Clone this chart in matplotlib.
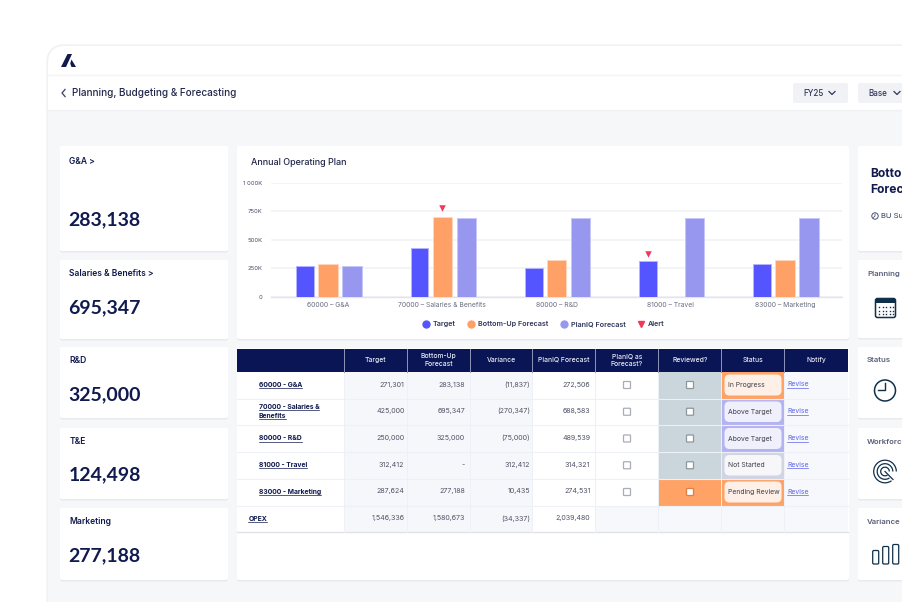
# -*- coding: utf-8 -*-
"""Planning, Budgeting & Forecasting dashboard"""

import matplotlib
matplotlib.use("Agg")
import matplotlib.pyplot as plt
from matplotlib.lines import Line2D
from matplotlib.patches import Arc, Circle, FancyBboxPatch, PathPatch, Rectangle
from matplotlib.path import Path
import numpy as np

plt.rcParams["font.family"] = ["Inter", "DejaVu Sans"]

NAVY = "#101A4E"
HEADER = "#0A1555"
GREY_TEXT = "#4A4F68"
W, H = 903, 602

# chart data, in thousands
categories = ["60000 – G&A", "70000 – Salaries & Benefits", "80000 – R&D", "81000 – Travel", "83000 – Marketing"]
target = [272, 425, 250, 312, 287]
bottom_up = [285, 700, 327, np.nan, 327]
planiq = [272, 690, 690, 690, 690]
alert_x = [1, 3]
alert_offset = [0.0, -0.2]
alert_y = [775, 378]
y_ticks = [0, 250, 500, 750, 1000]
y_tick_labels = ["0", "250K", "500K", "750K", "1 000K"]

# KPI cards on the left
kpi_labels = ["G&A >", "Salaries & Benefits >", "R&D", "T&E", "Marketing"]
kpi_values = ["283,138", "695,347", "325,000", "124,498", "277,188"]

# table
col_headers = ["", "Target", "Bottom-Up\nForecast", "Variance", "PlanIQ Forecast",
               "PlanIQ as\nForecast?", "Reviewed?", "Status", "Notify"]
row_names = ["60000 - G&A", "70000 - Salaries &\nBenefits", "80000 - R&D",
             "81000 - Travel", "83000 - Marketing", "OPEX"]
col_target = ["271,301", "425,000", "250,000", "312,412", "287,624", "1,546,336"]
col_bottom = ["283,138", "695,347", "325,000", "-", "277,188", "1,580,673"]
col_variance = ["(11,837)", "(270,347)", "(75,000)", "312,412", "10,435", "(34,337)"]
col_planiq = ["272,506", "688,583", "489,539", "314,321", "274,531", "2,039,480"]
statuses = ["In Progress", "Above Target", "Above Target", "Not Started", "Pending Review"]
status_bg = ["#FFA266", "#B4B3F1", "#B4B3F1", "#D1D4E2", "#FFA266"]
status_pill = ["#FFF0E7", "#F0F0FC", "#F0F0FC", "#F7F7FA", "#FFF0E7"]
reviewed_bg = ["#CAD6DB", "#CAD6DB", "#CAD6DB", "#CAD6DB", "#FFA266"]

col_x = [237.5, 344.5, 407, 470, 532.5, 595.5, 658.5, 721.5, 784.5, 848]
row_y = [371.5, 398.5, 425, 452, 478.5, 505.5, 532]
num_pad = [2.5, 5, 2.5, 5]

# right hand cards
side_labels = ["Planning", "Status", "Workforc", "Variance"]


def card(ax, x0, y0, x1, y1):
    # white card with a soft shadow
    ax.add_patch(FancyBboxPatch((x0, y0 + 1.5), x1 - x0, y1 - y0, boxstyle="round,pad=0,rounding_size=2",
                                fc="#E8EAEE", ec="none", zorder=2))
    ax.add_patch(FancyBboxPatch((x0, y0), x1 - x0, y1 - y0, boxstyle="round,pad=0,rounding_size=2",
                                fc="white", ec="none", zorder=3))


def rect(ax, x0, y0, x1, y1, color, zorder=4):
    ax.add_patch(Rectangle((x0, y0), x1 - x0, y1 - y0, fc=color, ec="none", zorder=zorder))


def checkbox(ax, xc, yc, edge="#A9ADB5"):
    ax.add_patch(FancyBboxPatch((xc - 3.5, yc - 3.5), 7, 7, boxstyle="round,pad=0,rounding_size=0.6",
                                fc="white", ec=edge, lw=0.9, zorder=6))


fig = plt.figure(figsize=(W / 100, H / 100), dpi=100, facecolor="white")
bg = fig.add_axes([0, 0, 1, 1])
bg.set_xlim(0, W)
bg.set_ylim(H, 0)
bg.axis("off")

# === app frame and header ===
bg.add_patch(FancyBboxPatch((47, 45), W + 40, H + 40, boxstyle="round,pad=0,rounding_size=18",
                            fc="#F6F7F9", ec="#F0F1F3", lw=1, zorder=1))
bg.add_patch(FancyBboxPatch((48, 46), W + 40, 90, boxstyle="round,pad=0,rounding_size=18",
                            fc="white", ec="none", zorder=1.2))
rect(bg, 48, 76, W, 110, "white", 1.3)
rect(bg, 48, 110, W, H, "#F6F7F9", 1.3)
bg.plot([48, W], [75, 75], color="#F3F4F6", lw=1, zorder=1.5)
bg.plot([48, W], [110, 110], color="#F0F1F4", lw=1, zorder=1.5)

# logo
bg.add_patch(PathPatch(Path([(61, 67), (67.5, 54), (72, 54), (66, 67), (61, 67)]), fc=NAVY, ec="none", zorder=4))
bg.add_patch(PathPatch(Path([(71.5, 59.5), (76, 67), (71.5, 67), (70.2, 63.5), (71.5, 59.5)]), fc=NAVY, ec="none", zorder=4))

bg.plot([65, 62, 65], [89.5, 93, 96.5], color=GREY_TEXT, lw=1, zorder=4)
bg.text(72.5, 93, "Planning, Budgeting & Forecasting", fontsize=7.2, color="#22284A", va="center", weight="medium", zorder=4)

# FY25 / Base selectors
for x0, x1, label, tx in [(793, 848, "FY25", 803), (858, 915, "Base", 868)]:
    bg.add_patch(FancyBboxPatch((x0, 83), x1 - x0, 20, boxstyle="round,pad=0,rounding_size=2", fc="#F1F2F5", ec="none", zorder=4))
    bg.text(tx, 93, label, fontsize=5.8, color="#30365A", va="center", weight="medium", zorder=5)
    bg.plot([tx + 26, tx + 29, tx + 32], [91.5, 94.5, 91.5], color="#30365A", lw=0.9, zorder=5)

# === KPI cards ===
kpi_boxes = [(146, 251), (260, 339), (347, 418), (428, 499), (508, 580)]
kpi_label_y = [162, 274, 360.5, 441.5, 521.5]
kpi_value_y = [220, 307.5, 394.5, 474.5, 555.5]
for (y0, y1), lab, val, ly, vy in zip(kpi_boxes, kpi_labels, kpi_values, kpi_label_y, kpi_value_y):
    card(bg, 60, y0, 228, y1)
    bg.text(69.5, ly, lab, fontsize=6.1, color=NAVY, va="center", weight="semibold", zorder=5)
    bg.text(68.5, vy, val, fontsize=14, color=NAVY, va="center", weight="bold", family="Lato", zorder=5)

# === chart card ===
card(bg, 237, 146, 849, 339)
bg.text(251, 162.5, "Annual Operating Plan", fontsize=6.5, color="#22284A", va="center", weight="medium", zorder=5)

left, right, top, bottom = 271, 842, 182.7, 297
ax = fig.add_axes([left / W, 1 - bottom / H, (right - left) / W, (bottom - top) / H], zorder=5)
ax.patch.set_alpha(0)
x = np.arange(len(categories))
bar_w = 0.165
ax.bar(x - 0.2, target, width=bar_w - 0.01, color="#5555FF", edgecolor="#B4B4FF", linewidth=0.7, zorder=3)
ax.bar(x, bottom_up, width=bar_w + 0.005, color="#FFA066", edgecolor="#FFD6BC", linewidth=0.7, zorder=3)
ax.bar(x + 0.2 + 0.01, planiq, width=bar_w + 0.005, color="#9797F0", edgecolor="#C6C6F8", linewidth=0.7, zorder=3)
ax.scatter(np.array(alert_x) + np.array(alert_offset), alert_y, marker="v", s=22, color="#F0385A", linewidths=0, zorder=4)

ax.set_xlim(-0.5, 4.5)
ax.set_ylim(0, 1000)
ax.set_xticks(x, categories)
ax.set_yticks(y_ticks, y_tick_labels)
ax.tick_params(axis="x", length=0, labelsize=4.9, labelcolor="#6A6E82", pad=3.5)
ax.tick_params(axis="y", length=0, labelsize=4.3, labelcolor="#4A4F68", pad=6)
ax.grid(axis="y", color="#F1F2F6", linewidth=1.2, zorder=0)
ax.set_axisbelow(True)
for side in ["top", "right", "left"]:
    ax.spines[side].set_visible(False)
ax.spines["bottom"].set_color("#E1E3EF")
ax.spines["bottom"].set_linewidth(1)

legend_elements = [
    Line2D([0], [0], marker="o", color="#5555FF", linestyle="", markersize=5, label="Target"),
    Line2D([0], [0], marker="o", color="#FFA066", linestyle="", markersize=5, label="Bottom-Up Forecast"),
    Line2D([0], [0], marker="o", color="#9797F0", linestyle="", markersize=5, label="PlanIQ Forecast"),
    Line2D([0], [0], marker="v", color="#F0385A", linestyle="", markersize=4.5, label="Alert"),
]
leg = ax.legend(handles=legend_elements, loc="center", bbox_to_anchor=(0.477, -0.238), ncol=4, frameon=False,
                prop={"size": 5.2, "weight": "semibold"}, labelcolor="#30365A",
                handletextpad=0.45, columnspacing=1.68, handlelength=1.0)

# === table ===
card(bg, 237, 348, 849, 580)
rect(bg, col_x[0], 348.5, col_x[-1], row_y[0], HEADER, 4)
for cx in col_x[1:-1]:
    bg.plot([cx, cx], [348.5, row_y[0]], color="#8F96B8", lw=0.7, zorder=5)
for i, head in enumerate(col_headers):
    if head:
        bg.text((col_x[i] + col_x[i + 1]) / 2, 360, head, fontsize=4.9, color="#E8EAF4", ha="center", va="center",
                linespacing=1.35, weight="medium", zorder=6)

# shaded columns
rect(bg, col_x[1], row_y[0], col_x[4], row_y[-1], "#F6F7FB", 4)
rect(bg, col_x[5], row_y[5], col_x[-1], row_y[-1], "#F7F8FC", 4)
rect(bg, col_x[8], row_y[0], col_x[-1], row_y[5], "#F7F8FC", 4)

for r in range(5):
    y0, y1 = row_y[r], row_y[r + 1]
    rect(bg, col_x[6], y0, col_x[7], y1, reviewed_bg[r], 4.2)
    rect(bg, col_x[7], y0, col_x[8], y1, status_bg[r], 4.2)
    yc = (y0 + y1) / 2
    bg.add_patch(FancyBboxPatch((col_x[7] + 3, y0 + 3), col_x[8] - col_x[7] - 6, y1 - y0 - 6,
                                boxstyle="round,pad=0,rounding_size=5", fc=status_pill[r], ec="none", zorder=5))
    bg.text(col_x[7] + 6.5, yc, statuses[r], fontsize=4.9, color="#3F3F48", va="center", zorder=6)
    checkbox(bg, (col_x[5] + col_x[6]) / 2, yc)
    checkbox(bg, (col_x[6] + col_x[7]) / 2, yc, "#E07F45" if r == 4 else "#8E979E")
    bg.text(col_x[8] + 3, yc - 0.5, "Revise", fontsize=4.9, color="#5A63E8", va="center", zorder=6)
    bg.plot([col_x[8] + 3, col_x[8] + 24], [yc + 3, yc + 3], color="#5A63E8", lw=0.5, zorder=6)

# grid lines
for ry in row_y[1:-1]:
    bg.plot([col_x[0], col_x[-1]], [ry, ry], color="#EEF0F7", lw=0.8, zorder=4.5)
bg.plot([col_x[0], col_x[-1]], [row_y[-1], row_y[-1]], color="#E0E2E8", lw=1, zorder=4.5)
for cx in col_x[1:-1]:
    bg.plot([cx, cx], [row_y[0], row_y[-1]], color="#EEF0F7", lw=0.7, zorder=4.5)

# table text
for r, name in enumerate(row_names):
    yc = (row_y[r] + row_y[r + 1]) / 2
    name_x = 259 if r < 5 else 248.5
    if "\n" in name:
        first, second = name.split("\n")
        bg.text(name_x, yc - 4.5, first, fontsize=4.9, color=NAVY, va="center", weight="bold", zorder=6)
        bg.text(name_x, yc + 4.5, second, fontsize=4.9, color=NAVY, va="center", weight="bold", zorder=6)
        bg.plot([name_x, name_x + 60], [yc - 1.5, yc - 1.5], color=NAVY, lw=0.5, zorder=6)
        bg.plot([name_x, name_x + 27], [yc + 7.5, yc + 7.5], color=NAVY, lw=0.5, zorder=6)
    else:
        t = bg.text(name_x, yc, name, fontsize=4.9, color=NAVY, va="center", weight="bold", zorder=6)
        fig.canvas.draw()
        bb = t.get_window_extent()
        bg.plot([bb.x0, bb.x1], [yc + 3, yc + 3], color=NAVY, lw=0.5, zorder=6)
    for c, col in zip(range(1, 5), [col_target, col_bottom, col_variance, col_planiq]):
        bg.text(col_x[c + 1] - num_pad[c - 1], yc - 0.5, col[r], fontsize=5.1, color="#4E5366", ha="right", va="center", zorder=6)

# === right hand cards ===
card(bg, 858, 146, W + 20, 251)
bg.text(870.5, 174, "Botto", fontsize=8.7, color=NAVY, va="center", weight="bold", zorder=5)
bg.text(870.5, 190, "Forec", fontsize=8.7, color=NAVY, va="center", weight="bold", zorder=5)
bg.add_patch(Circle((875, 216), 3.2, fc="none", ec="#30365A", lw=0.6, zorder=5))
bg.plot([875, 875, 873.5], [214, 216, 217.5], color="#30365A", lw=0.5, zorder=5)
bg.text(881, 216, "BU Su", fontsize=5.5, color="#30365A", va="center", zorder=5)

side_boxes = [(260, 338), (347, 418), (428, 499), (508, 580)]
side_y = [274, 360.5, 441.5, 521.5]
for (y0, y1), lab, ly in zip(side_boxes, side_labels, side_y):
    card(bg, 858, y0, W + 20, y1)
    bg.text(867, ly, lab, fontsize=5.6, color="#5A5F78", va="center", weight="semibold", zorder=5)

ICON = "#10304A"
# calendar
bg.add_patch(FancyBboxPatch((875.5, 298.5), 20, 19, boxstyle="round,pad=0,rounding_size=2", fc="white", ec=ICON, lw=1.1, zorder=5))
rect(bg, 875.5, 298.5, 895.5, 303, ICON, 5.1)
for yy in [307, 310.5, 314]:
    bg.plot([879.5, 883, 886.5, 890, 893], [yy] * 5, linestyle="", marker="s", ms=1, mew=0, color=ICON, zorder=5.2)
# clock
bg.add_patch(Circle((885, 390.5), 10.5, fc="none", ec=ICON, lw=1.1, zorder=5))
bg.plot([885.5, 885.5, 878.5], [383, 390, 390], color=ICON, lw=1, zorder=5)
# target
for rad in [11.3, 7.8, 4.3]:
    bg.add_patch(Arc((885, 471.5), rad * 2, rad * 2, theta1=55, theta2=360, angle=0, ec=ICON, lw=0.9, zorder=5))
bg.plot([885, 893], [471.5, 479.5], color=ICON, lw=0.9, zorder=5)
# bars icon
for x0, y0 in [(872.7, 550.5), (882.7, 546.5), (892.7, 544.5)]:
    bg.add_patch(FancyBboxPatch((x0, y0), 6, 564 - y0, boxstyle="round,pad=0,rounding_size=1.2",
                                fc="white", ec=ICON, lw=0.9, zorder=5))

fig.savefig("out.png", dpi=100)
plt.close(fig)
